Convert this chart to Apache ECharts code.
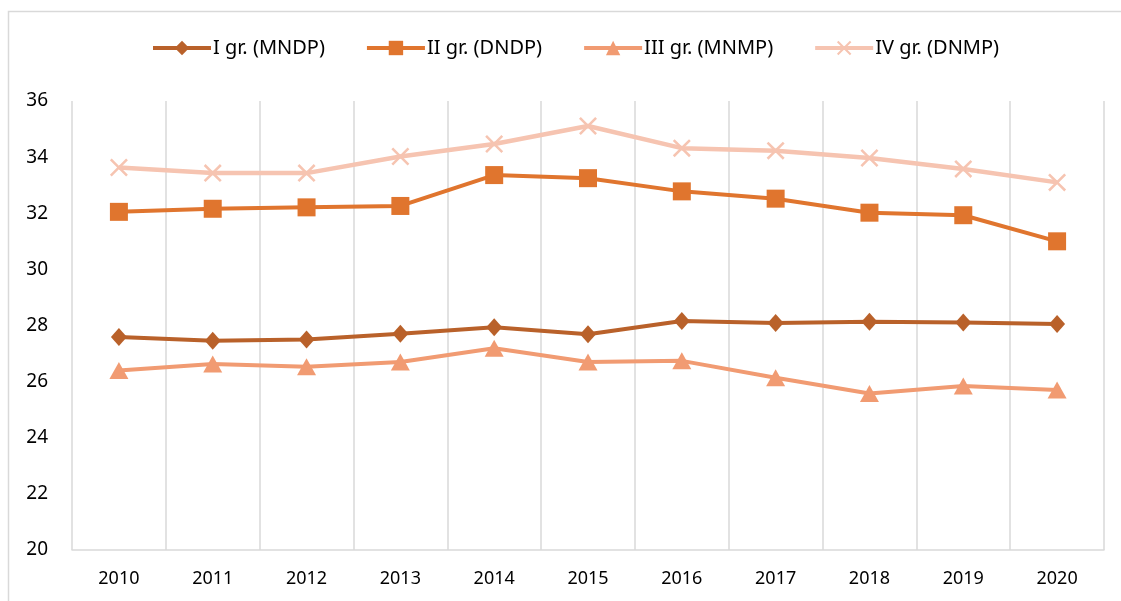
<!DOCTYPE html>
<html>
<head>
<meta charset="utf-8">
<script src="https://cdn.jsdelivr.net/npm/echarts@6/dist/echarts.min.js"></script>
<style>
  html, body { margin: 0; padding: 0; background: #fff; }
  #chart { width: 1121px; height: 601px; }
</style>
</head>
<body>
<div id="chart"></div>
<script>
const years = ['2010', '2011', '2012', '2013', '2014', '2015', '2016', '2017', '2018', '2019', '2020']
const groupI = [27.59, 27.46, 27.5, 27.71, 27.94, 27.69, 28.16, 28.09, 28.13, 28.11, 28.05]
const groupII = [32.05, 32.16, 32.21, 32.26, 33.36, 33.25, 32.78, 32.52, 32.02, 31.93, 31.0]
const groupIII = [26.4, 26.63, 26.53, 26.7, 27.19, 26.7, 26.74, 26.14, 25.58, 25.84, 25.7]
const groupIV = [33.63, 33.43, 33.43, 34.02, 34.47, 35.11, 34.32, 34.23, 33.97, 33.58, 33.1]

const font = '"Noto Sans", sans-serif'
const crossPath = 'path://M0,1L1,0L5,4L9,0L10,1L6,5L10,9L9,10L5,6L1,10L0,9L4,5Z'

const chart = echarts.init(document.getElementById('chart'))
chart.setOption({
  animation: false,
  textStyle: { fontFamily: font },
  graphic: [{
    type: 'rect',
    shape: { x: 8.5, y: 11.5, width: 1200, height: 700 },
    style: { fill: 'none', stroke: '#d9d9d9', lineWidth: 1.5 },
    silent: true
  }],
  legend: {
    top: 33,
    left: 146,
    itemWidth: 58,
    itemHeight: 18,
    itemGap: 40,
    lineStyle: { width: 4 },
    textStyle: { fontSize: 20, color: '#000', fontFamily: font, padding: [0, 0, 0, -3] }
  },
  grid: { left: 72, right: 17, top: 101, bottom: 51 },
  xAxis: {
    type: 'category',
    data: years,
    boundaryGap: true,
    axisLine: { lineStyle: { color: '#d9d9d9', width: 1.5 } },
    axisTick: { show: false },
    axisLabel: { fontSize: 18, color: '#000', margin: 20 },
    splitLine: { show: true, lineStyle: { color: '#d9d9d9', width: 1.5 } }
  },
  yAxis: {
    type: 'value',
    min: 20,
    max: 36,
    interval: 2,
    axisLine: { show: false },
    axisTick: { show: false },
    splitLine: { show: false },
    axisLabel: { fontSize: 19, color: '#000', margin: 24 }
  },
  series: [
    {
      name: 'I gr. (MNDP)',
      type: 'line',
      data: groupI,
      symbol: 'diamond',
      symbolSize: [16, 18],
      lineStyle: { color: '#b9612a', width: 4 },
      itemStyle: { color: '#b9612a' }
    },
    {
      name: 'II gr. (DNDP)',
      type: 'line',
      data: groupII,
      symbol: 'rect',
      symbolSize: 18,
      lineStyle: { color: '#e0752e', width: 4 },
      itemStyle: { color: '#e0752e' }
    },
    {
      name: 'III gr. (MNMP)',
      type: 'line',
      data: groupIII,
      symbol: 'triangle',
      symbolSize: [19, 17],
      lineStyle: { color: '#f19b72', width: 4 },
      itemStyle: { color: '#f19b72' }
    },
    {
      name: 'IV gr. (DNMP)',
      type: 'line',
      data: groupIV,
      symbol: crossPath,
      symbolSize: 18,
      lineStyle: { color: '#f6c4b1', width: 4.5 },
      itemStyle: { color: '#f6c4b1' }
    }
  ]
})
</script>
</body>
</html>
